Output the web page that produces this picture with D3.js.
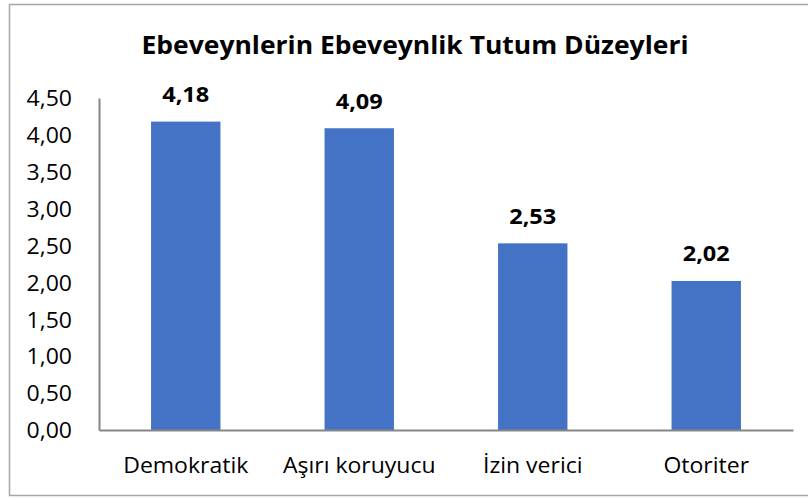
<!DOCTYPE html>
<html>
<head>
<meta charset="utf-8">
<script src="https://cdn.jsdelivr.net/npm/d3@7"></script>
<style>
  body { margin: 0; background: #fff; }
  svg text { font-family: "Open Sans", "Liberation Sans", sans-serif; fill: #000; }
</style>
</head>
<body>
<div id="chart"></div>
<script>
// data
var categories = ["Demokratik", "Aşırı koruyucu", "İzin verici", "Otoriter"];
var values = [4.18, 4.09, 2.53, 2.02];
var yTicks = [0, 0.5, 1, 1.5, 2, 2.5, 3, 3.5, 4, 4.5];
var title = "Ebeveynlerin Ebeveynlik Tutum Düzeyleri";

var width = 808, height = 498;
var margin = {top: 98, left: 99, bottom: 68, right: 15};
var g_width = width - margin.left - margin.right;
var g_height = height - margin.top - margin.bottom;

// widen text a little so glyph widths match the original
function stretch(k) {
  return function (sel) {
    sel.each(function () {
      var w = this.getComputedTextLength();
      d3.select(this).attr('textLength', w * k).attr('lengthAdjust', 'spacingAndGlyphs');
    });
  };
}

var svg = d3.select('#chart').append('svg')
  .attr('width', width)
  .attr('height', height);

// chart frame
svg.append('rect')
  .attr('x', 9.5).attr('y', 4.5)
  .attr('width', 808).attr('height', 491)
  .attr('fill', 'none')
  .attr('stroke', '#a6a6a6')
  .attr('stroke-width', 1.5);

svg.append('text')
  .text(title)
  .attr('x', 415)
  .attr('y', 54)
  .attr('text-anchor', 'middle')
  .style('font-size', '24.5px')
  .style('font-weight', 'bold')
  .call(stretch(1.08));

var g = svg.append('g')
  .attr('transform', 'translate(' + margin.left + ',' + margin.top + ')');

var xScale = d3.scaleBand().domain(categories).range([0, g_width])
  .paddingInner(0.6).paddingOuter(0.3);
var yScale = d3.scaleLinear().domain([0, 4.5]).range([g_height, 0]);

var fmt = function (v) { return d3.format('.2f')(v).replace('.', ','); };

// y axis
var yAxis = d3.axisLeft(yScale).tickValues(yTicks).tickFormat(fmt).tickSize(0).tickPadding(27);
var ya = g.append('g').attr('class', 'y axis').call(yAxis);
ya.select('.domain').attr('stroke', '#868686').attr('stroke-width', 2);
ya.selectAll('text').style('font-size', '21.5px').attr('dy', '0.36em')
  .style('font-family', '"Open Sans", sans-serif')
  .call(stretch(1.07));

// bars
g.selectAll('.bar')
  .data(values)
  .enter()
  .append('rect')
  .attr('class', 'bar')
  .attr('x', function (d, i) { return xScale(categories[i]); })
  .attr('y', function (d) { return yScale(d); })
  .attr('width', xScale.bandwidth())
  .attr('height', function (d) { return g_height - yScale(d); })
  .attr('fill', '#4472c4');

// value labels
g.selectAll('.val')
  .data(values)
  .enter()
  .append('text')
  .attr('class', 'val')
  .text(fmt)
  .attr('x', function (d, i) { return xScale(categories[i]) + xScale.bandwidth() / 2; })
  .attr('y', function (d) { return yScale(d) - 19.5; })
  .attr('text-anchor', 'middle')
  .style('font-size', '21px')
  .style('font-weight', 'bold')
  .call(stretch(1.12));

// x axis
var xAxis = d3.axisBottom(xScale).tickSize(0);
var xa = g.append('g').attr('class', 'x axis')
  .attr('transform', 'translate(0,' + g_height + ')')
  .call(xAxis);
xa.select('.domain').attr('stroke', '#868686').attr('stroke-width', 2);
xa.selectAll('text')
  .attr('y', 43).attr('dy', null)
  .style('font-size', '21.5px')
  .style('font-family', '"Open Sans", sans-serif')
  .call(stretch(1.07));
</script>
</body>
</html>
